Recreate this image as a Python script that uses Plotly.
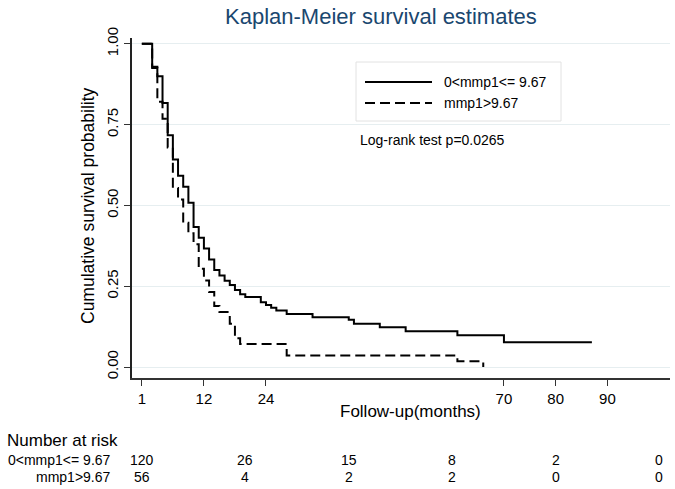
import plotly.graph_objects as go

# ---- data ----
solid_name = "0<mmp1<= 9.67"
dash_name = "mmp1>9.67"

solid_time = [0, 2, 3, 4, 5, 6, 7, 8, 9, 10, 11, 12, 13, 14, 15, 16, 17, 18, 19, 20,
              23, 24, 25, 26, 28, 33, 40, 41, 46, 51, 61, 70, 87]
solid_surv = [1.0, 0.925, 0.900, 0.817, 0.717, 0.642, 0.592, 0.558, 0.508, 0.433,
              0.400, 0.367, 0.333, 0.300, 0.283, 0.267, 0.254, 0.238, 0.225, 0.217,
              0.200, 0.192, 0.183, 0.175, 0.164, 0.154, 0.146, 0.134, 0.123, 0.111,
              0.098, 0.077, 0.077]

dash_time = [0, 2, 3, 4, 5, 6, 7, 8, 9, 10, 11, 12, 13, 14, 15, 17, 18, 19, 28, 61, 66]
dash_surv = [1.0, 0.929, 0.821, 0.768, 0.679, 0.554, 0.518, 0.446, 0.414, 0.380,
             0.304, 0.268, 0.232, 0.189, 0.170, 0.134, 0.089, 0.071, 0.036, 0.018, 0.0]

x_tickvals = [0, 12, 24, 70, 80, 90]
x_ticktext = ["1", "12", "24", "70", "80", "90"]
y_tickvals = [0, 0.25, 0.5, 0.75, 1.0]

risk_times = [0, 20, 40, 60, 80, 100]
risk_solid = [120, 26, 15, 8, 2, 0]
risk_dash = [56, 4, 2, 2, 0, 0]

title_text = "Kaplan-Meier survival estimates"
pvalue_text = "Log-rank test p=0.0265"

FONT = "Arial, Liberation Sans, sans-serif"

fig = go.Figure()
fig.add_trace(go.Scatter(x=solid_time, y=solid_surv, mode="lines", name=solid_name,
                         line=dict(shape="hv", color="black", width=2), showlegend=False))
fig.add_trace(go.Scatter(x=dash_time, y=dash_surv, mode="lines", name=dash_name,
                         line=dict(shape="hv", color="black", width=2, dash="10px,5px"),
                         showlegend=False))

# plot area geometry (px)
L, R, T, B = 132, 670, 38, 378
W, H = 675, 489

def px(xp):
    return (xp - L) / (R - L)

def py(yp):
    return (B - yp) / (B - T)

shapes = []
annotations = []

# legend box
shapes.append(dict(type="rect", xref="paper", yref="paper",
                   x0=px(356), x1=px(561), y0=py(121), y1=py(62),
                   line=dict(color="#e2e2e2", width=1), fillcolor="white", layer="above"))
shapes.append(dict(type="line", xref="paper", yref="paper",
                   x0=px(365), x1=px(432), y0=py(82), y1=py(82),
                   line=dict(color="black", width=2), layer="above"))
shapes.append(dict(type="line", xref="paper", yref="paper",
                   x0=px(365), x1=px(432), y0=py(103), y1=py(103),
                   line=dict(color="black", width=2, dash="10px,5px"), layer="above"))
annotations.append(dict(text=solid_name, xref="paper", yref="paper", x=px(442), y=py(82),
                        xanchor="left", yanchor="middle", showarrow=False,
                        font=dict(family=FONT, size=14, color="black")))
annotations.append(dict(text=dash_name, xref="paper", yref="paper", x=px(442), y=py(103),
                        xanchor="left", yanchor="middle", showarrow=False,
                        font=dict(family=FONT, size=14, color="black")))
annotations.append(dict(text=pvalue_text, xref="paper", yref="paper", x=px(358), y=py(140),
                        xanchor="left", yanchor="middle", showarrow=False,
                        font=dict(family=FONT, size=14, color="black")))

# title
annotations.append(dict(text=title_text, xref="paper", yref="paper", x=px(381), y=py(16),
                        xanchor="center", yanchor="middle", showarrow=False,
                        font=dict(family=FONT, size=22, color="#1a476f")))
# y title
annotations.append(dict(text="Cumulative survival probability", xref="paper", yref="paper",
                        x=px(88), y=py(206), textangle=-90, xanchor="center", yanchor="middle",
                        showarrow=False, font=dict(family=FONT, size=17.5, color="black")))
# x title
annotations.append(dict(text="Follow-up(months)", xref="paper", yref="paper",
                        x=px(410), y=py(411), xanchor="center", yanchor="middle",
                        showarrow=False, font=dict(family=FONT, size=17, color="black")))

# number at risk table
annotations.append(dict(text="Number at risk", xref="paper", yref="paper", x=px(5), y=py(440),
                        xanchor="left", yanchor="middle", showarrow=False,
                        font=dict(family=FONT, size=17, color="black")))
for label, row, ypx in [(solid_name, risk_solid, 460), (dash_name, risk_dash, 477)]:
    annotations.append(dict(text=label, xref="paper", yref="paper", x=px(113), y=py(ypx),
                            xanchor="right", yanchor="middle", showarrow=False,
                            font=dict(family=FONT, size=14, color="black")))
    for t, n in zip(risk_times, row):
        annotations.append(dict(text=str(n), xref="x", yref="paper", x=t, y=py(ypx),
                                xanchor="center", yanchor="middle", showarrow=False,
                                font=dict(family=FONT, size=14, color="black")))

fig.update_layout(
    width=W, height=H,
    margin=dict(l=L, r=W - R, t=T, b=H - B, pad=0),
    paper_bgcolor="white", plot_bgcolor="white",
    shapes=shapes, annotations=annotations,
    font=dict(family=FONT, color="black"),
    showlegend=False,
)
fig.update_xaxes(range=[-1.9, 102.1], tickmode="array", tickvals=x_tickvals, ticktext=x_ticktext,
                 showgrid=False, zeroline=False, showline=True, linecolor="#333333", linewidth=1.5,
                 ticks="outside", ticklen=6, tickcolor="#333333", tickwidth=1.2,
                 tickfont=dict(family=FONT, size=15, color="black"))
fig.update_yaxes(range=[-0.034, 1.018], tickmode="array", tickvals=y_tickvals, tickformat=".2f",
                 showgrid=True, gridcolor="#e6eef0", gridwidth=1.2, zeroline=False,
                 showline=True, linecolor="#222222", linewidth=1.5,
                 ticks="outside", ticklen=6, tickcolor="#333333", tickwidth=1.2, tickangle=-90,
                 tickfont=dict(family=FONT, size=15, color="black"))

fig.write_html("out.html", config={"displayModeBar": False},
               post_script="document.body.style.margin='0';document.body.style.padding='0';")
